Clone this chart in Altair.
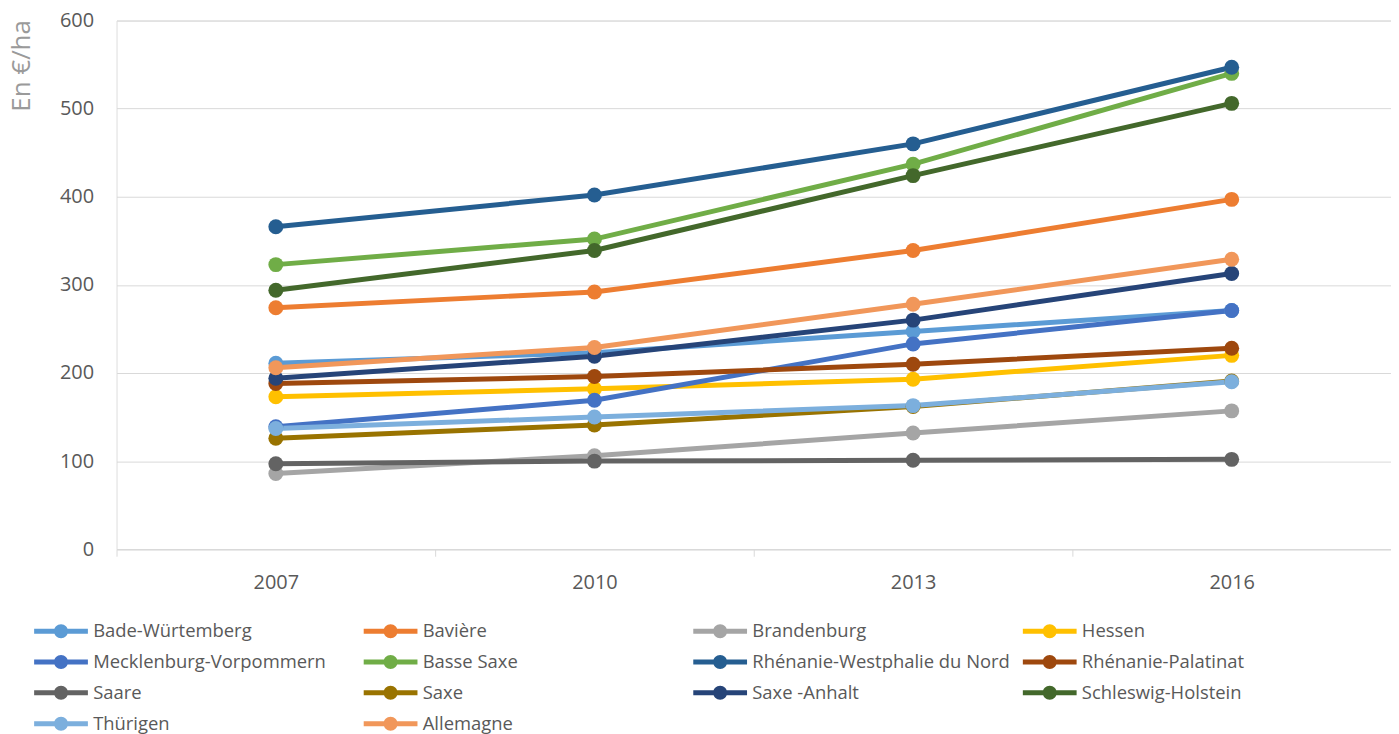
import altair as alt
import pandas as pd

years = ["2007", "2010", "2013", "2016"]

series = [
    "Bade-Würtemberg", "Bavière", "Brandenburg", "Hessen",
    "Mecklenburg-Vorpommern", "Basse Saxe", "Rhénanie-Westphalie du Nord", "Rhénanie-Palatinat",
    "Saare", "Saxe", "Saxe -Anhalt", "Schleswig-Holstein",
    "Thürigen", "Allemagne",
]

colors = [
    "#5B9BD5", "#ED7D31", "#A5A5A5", "#FFC000",
    "#4472C4", "#70AD47", "#255E91", "#9E480E",
    "#636363", "#997300", "#264478", "#43682B",
    "#7CAFDD", "#F1975A",
]

bade_wurtemberg = [211, 223, 247, 271]
baviere = [274, 292, 339, 397]
brandenburg = [86, 106, 132, 157]
hessen = [173, 182, 193, 220]
mecklenburg = [139, 169, 233, 271]
basse_saxe = [323, 352, 437, 540]
rhenanie_westphalie = [366, 402, 460, 547]
rhenanie_palatinat = [188, 196, 210, 228]
saare = [97, 100, 101, 102]
saxe = [126, 141, 162, 191]
saxe_anhalt = [194, 219, 260, 313]
schleswig = [294, 339, 424, 506]
thurigen = [137, 150, 163, 190]
allemagne = [206, 229, 278, 329]

values = [
    bade_wurtemberg, baviere, brandenburg, hessen,
    mecklenburg, basse_saxe, rhenanie_westphalie, rhenanie_palatinat,
    saare, saxe, saxe_anhalt, schleswig,
    thurigen, allemagne,
]

rows = []
for i, (name, vals) in enumerate(zip(series, values)):
    for y, v in zip(years, vals):
        rows.append({"Région": name, "Année": y, "Valeur": v, "ordre": i})
df = pd.DataFrame(rows)

FONT = "Open Sans"
LABEL = "#595959"
GRID = "#D9D9D9"

legend_symbol = (
    "M-3,-0.28 H3 V0.28 H-3 Z "
    "M0.78,0 A0.78,0.78 0 1 1 -0.78,0 A0.78,0.78 0 1 1 0.78,0 Z"
)

x_enc = alt.X(
    "Année:N",
    sort=years,
    bandPosition=0.5,
    scale=alt.Scale(type="band", paddingInner=0, paddingOuter=0),
    axis=alt.Axis(
        title=None,
        labelAngle=0,
        labelFont=FONT,
        labelFontSize=20,
        labelColor=LABEL,
        labelPadding=16,
        domainColor=GRID,
        domainWidth=1,
        tickColor=GRID,
        tickSize=7,
        tickBand="extent",
        grid=False,
    ),
)

y_enc = alt.Y(
    "Valeur:Q",
    scale=alt.Scale(domain=[0, 600], nice=False),
    axis=alt.Axis(
        values=[0, 100, 200, 300, 400, 500, 600],
        title="En €/ha",
        titleFont="Liberation Sans Narrow, Open Sans",
        titleFontSize=26,
        titleFontWeight="normal",
        titleColor="#9A9A9A",
        titleAngle=270,
        titleX=-95,
        titleY=91,
        titleAlign="left",
        titleBaseline="middle",
        labelFont=FONT,
        labelFontSize=20,
        labelColor=LABEL,
        labelPadding=23,
        domain=False,
        ticks=False,
        grid=True,
        gridColor=GRID,
        gridWidth=1,
    ),
)

color_scale = alt.Scale(domain=series, range=colors)

legend = alt.Legend(
    title=None,
    orient="none",
    legendX=-65,
    legendY=604,
    direction="horizontal",
    columns=4,
    gridAlign="all",
    columnPadding=12,
    rowPadding=12,
    symbolType=legend_symbol,
    symbolSize=324,
    symbolStrokeWidth=0,
    symbolOpacity=1,
    labelOffset=23,
    labelFont=FONT,
    labelFontSize=18.5,
    labelColor=LABEL,
    labelLimit=400,
)

lines = alt.Chart(df).mark_line(strokeWidth=5).encode(
    x=x_enc,
    y=y_enc,
    color=alt.Color("Région:N", scale=color_scale, legend=legend),
    detail="Région:N",
    order="ordre:Q",
)

points = alt.Chart(df).mark_point(filled=True, size=225, opacity=1, shape="circle").encode(
    x=x_enc,
    y=y_enc,
    color=alt.Color("Région:N", scale=color_scale, legend=legend),
    order="ordre:Q",
)

chart = (
    alt.layer(lines, points)
    .properties(
        width=1280,
        height=531,
        padding={"left": 109, "top": 11, "right": 0, "bottom": 186},
        autosize=alt.AutoSizeParams(type="none"),
    )
    .configure_view(stroke=None)
    .configure(background="white")
)

chart.save("out.html", embed_options={"renderer": "svg", "actions": False})
